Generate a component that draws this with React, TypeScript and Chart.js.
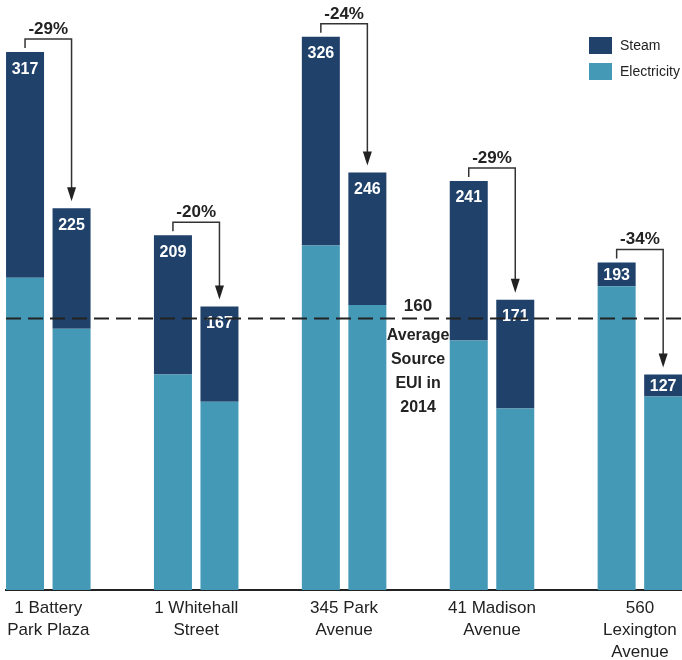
import React, { useEffect, useRef } from 'react';
import { Chart, registerables } from 'chart.js';

Chart.register(...registerables);

// ---- data ----
const buildings: string[][] = [
  ['1 Battery', 'Park Plaza'],
  ['1 Whitehall', 'Street'],
  ['345 Park', 'Avenue'],
  ['41 Madison', 'Avenue'],
  ['560', 'Lexington', 'Avenue'],
];
const electricityBefore = [184, 127, 203, 147, 179];
const steamBefore = [133, 82, 123, 94, 14];
const electricityAfter = [154, 111, 168, 107, 114];
const steamAfter = [71, 56, 78, 64, 13];
const changeLabels = ['-29%', '-20%', '-24%', '-29%', '-34%'];
const averageEUI = 160;
const averageLabel = ['Average', 'Source', 'EUI in', '2014'];
const seriesNames = ['Steam', 'Electricity'];

// ---- style ----
const STEAM = '#1f416a';
const ELEC = '#4499b7';
const INK = '#222222';
const FONT = "'Liberation Sans', Arial, Helvetica, sans-serif";

const toXY = (arr: number[]) => arr.map((y, i) => ({ x: i, y }));

const overlay = {
  id: 'overlay',
  afterDraw(chart: any) {
    const ctx = chart.ctx as CanvasRenderingContext2D;
    const { left, right } = chart.chartArea;
    const yS = chart.scales.y;
    const eB = chart.getDatasetMeta(0).data;
    const sB = chart.getDatasetMeta(1).data;
    const eA = chart.getDatasetMeta(2).data;
    const sA = chart.getDatasetMeta(3).data;
    ctx.save();

    // totals inside bars
    ctx.font = `bold 16px ${FONT}`;
    ctx.fillStyle = '#ffffff';
    ctx.textAlign = 'center';
    ctx.textBaseline = 'middle';
    const sets: [any[], any[], number[], number[]][] = [
      [eB, sB, electricityBefore, steamBefore],
      [eA, sA, electricityAfter, steamAfter],
    ];
    for (const [e, s, ev, sv] of sets) {
      for (let i = 0; i < s.length; i++) {
        const top = s[i].y;
        const mid = e[i].y;
        const cy = Math.min(top + 16, (top + mid) / 2);
        ctx.fillText(String(ev[i] + sv[i]), s[i].x, cy + 1);
      }
    }

    // average dashed line
    const yAvg = yS.getPixelForValue(averageEUI);
    ctx.strokeStyle = INK;
    ctx.lineWidth = 2;
    ctx.setLineDash([15, 7]);
    ctx.beginPath();
    ctx.moveTo(left, yAvg);
    ctx.lineTo(right, yAvg);
    ctx.stroke();
    ctx.setLineDash([]);

    // average label
    const cx = (sA[2].x + sB[3].x) / 2;
    ctx.fillStyle = INK;
    ctx.font = `bold 17px ${FONT}`;
    ctx.fillText(String(averageEUI), cx, yAvg - 12);
    ctx.font = `bold 16px ${FONT}`;
    averageLabel.forEach((t, k) => ctx.fillText(t, cx, yAvg + 17 + 24 * k));

    // brackets with arrows
    for (let i = 0; i < sB.length; i++) {
      const x1 = sB[i].x;
      const x2 = sA[i].x;
      const t1 = sB[i].y;
      const t2 = sA[i].y;
      const yb = t1 - 13;
      const tip = t2 - 7;
      ctx.strokeStyle = '#333333';
      ctx.lineWidth = 1.5;
      ctx.beginPath();
      ctx.moveTo(x1, t1 - 4);
      ctx.lineTo(x1, yb);
      ctx.lineTo(x2, yb);
      ctx.lineTo(x2, tip - 12);
      ctx.stroke();
      ctx.fillStyle = '#222222';
      ctx.beginPath();
      ctx.moveTo(x2 - 4.5, tip - 14);
      ctx.lineTo(x2 + 4.5, tip - 14);
      ctx.lineTo(x2, tip);
      ctx.closePath();
      ctx.fill();
      ctx.font = `bold 17px ${FONT}`;
      ctx.fillStyle = INK;
      ctx.textAlign = 'center';
      ctx.textBaseline = 'middle';
      ctx.fillText(changeLabels[i], (x1 + x2) / 2, yb - 10);
    }

    // legend
    const lx = right - 93;
    const colors = [STEAM, ELEC];
    ctx.font = `14px ${FONT}`;
    ctx.textAlign = 'left';
    ctx.textBaseline = 'middle';
    seriesNames.forEach((name, k) => {
      const ly = 37 + 26 * k;
      ctx.fillStyle = colors[k];
      ctx.fillRect(lx, ly, 23, 17);
      ctx.fillStyle = INK;
      ctx.fillText(name, lx + 31, ly + 9);
    });

    ctx.restore();
  },
};

export default function App() {
  const ref = useRef<HTMLCanvasElement | null>(null);

  useEffect(() => {
    if (!ref.current) return;
    const chart = new Chart(ref.current, {
      type: 'bar',
      data: {
        datasets: [
          { label: 'Electricity', data: toXY(electricityBefore) as any, backgroundColor: ELEC, stack: 'before' },
          { label: 'Steam', data: toXY(steamBefore) as any, backgroundColor: STEAM, stack: 'before' },
          { label: 'Electricity', data: toXY(electricityAfter) as any, backgroundColor: ELEC, stack: 'after' },
          { label: 'Steam', data: toXY(steamAfter) as any, backgroundColor: STEAM, stack: 'after' },
        ],
      },
      options: {
        responsive: false,
        animation: false,
        layout: { padding: { left: 6, right: 0, top: 0, bottom: 0 } },
        datasets: { bar: { categoryPercentage: 0.629, barPercentage: 0.817, borderWidth: 0 } } as any,
        plugins: { legend: { display: false }, tooltip: { enabled: false } },
        scales: {
          x: {
            type: 'linear',
            min: -0.286,
            max: 4.2846,
            offset: false,
            grid: { display: false, drawTicks: false, offset: false },
            border: { display: true, color: INK, width: 2 },
            ticks: {
              stepSize: 1,
              includeBounds: false,
              autoSkip: false,
              maxRotation: 0,
              minRotation: 0,
              padding: 8,
              color: INK,
              font: { family: FONT, size: 17, lineHeight: 1.27 },
              callback: (v: any) => buildings[Math.round(Number(v))] ?? '',
            },
            afterFit: (s: any) => {
              s.height = 70;
              s.paddingLeft = 0;
              s.paddingRight = 0;
            },
          } as any,
          y: { display: false, stacked: true, min: 0, max: 347.7 },
        },
      },
      plugins: [overlay],
    });
    return () => chart.destroy();
  }, []);

  return (
    <div style={{ position: 'fixed', left: 0, top: 0, width: 682, height: 660, background: '#fff' }}>
      <canvas ref={ref} width={682} height={660} style={{ display: 'block' }} />
    </div>
  );
}
